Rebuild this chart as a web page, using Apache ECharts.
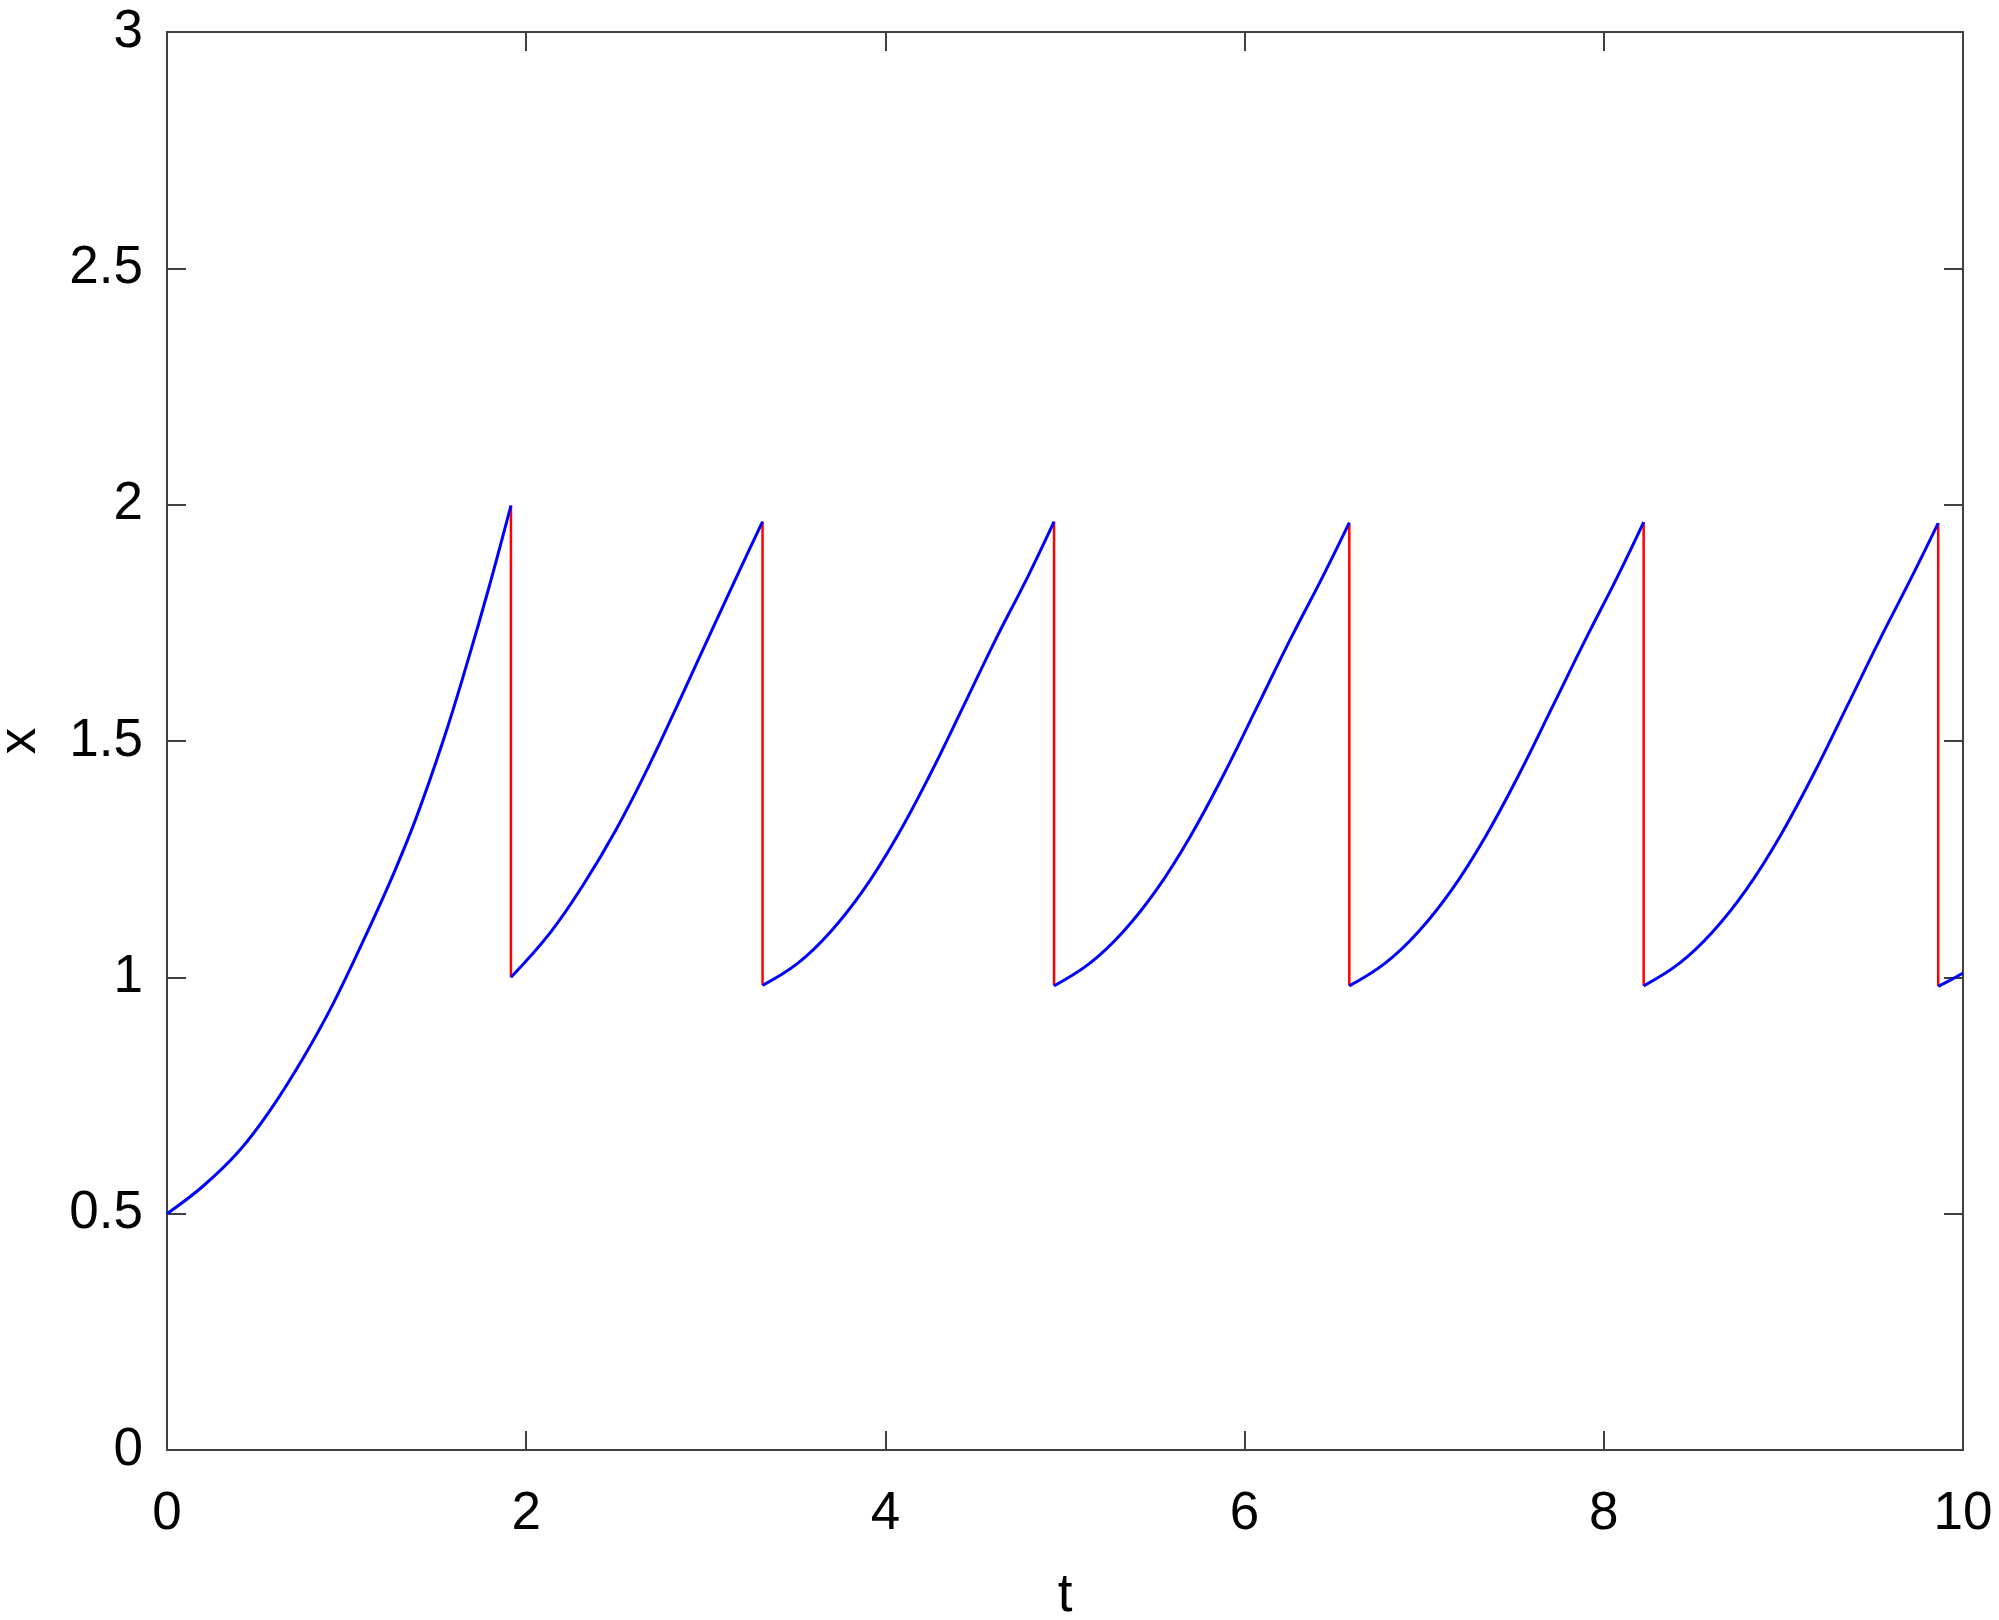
<!DOCTYPE html>
<html>
<head>
<meta charset="utf-8">
<script src="https://cdn.jsdelivr.net/npm/echarts@6/dist/echarts.min.js"></script>
<style>
html,body{margin:0;padding:0;background:#fff;}
#chart{width:1999px;height:1620px;}
</style>
</head>
<body>
<div id="chart"></div>
<script>
// Blue continuous segments (t, x)
const seg1T = [0, 0.2, 0.4, 0.573, 0.759, 0.926, 1.112, 1.26, 1.39, 1.539, 1.669, 1.789, 1.915];
const seg1X = [0.5, 0.558, 0.632, 0.718, 0.830, 0.945, 1.093, 1.218, 1.340, 1.502, 1.662, 1.820, 1.998];
const seg2T = [1.915, 2.133, 2.318, 2.504, 2.689, 2.875, 3.061, 3.246, 3.316];
const seg2X = [1.0, 1.094, 1.196, 1.315, 1.452, 1.603, 1.757, 1.908, 1.964];
const seg3T = [3.316, 3.513, 3.696, 3.880, 4.063, 4.246, 4.430, 4.613, 4.796, 4.939];
const seg3X = [0.983, 1.030, 1.097, 1.186, 1.297, 1.427, 1.570, 1.714, 1.850, 1.964];
const seg4T = [4.939, 5.139, 5.325, 5.511, 5.696, 5.881, 6.067, 6.253, 6.438, 6.583];
const seg4X = [0.982, 1.030, 1.097, 1.186, 1.297, 1.427, 1.570, 1.714, 1.850, 1.962];
const seg5T = [6.583, 6.783, 6.969, 7.155, 7.34, 7.525, 7.711, 7.897, 8.082, 8.222];
const seg5X = [0.982, 1.030, 1.097, 1.186, 1.297, 1.427, 1.570, 1.714, 1.852, 1.963];
const seg6T = [8.222, 8.422, 8.608, 8.794, 8.979, 9.164, 9.35, 9.536, 9.721, 9.862];
const seg6X = [0.982, 1.030, 1.097, 1.186, 1.297, 1.427, 1.570, 1.714, 1.852, 1.961];
const seg7T = [9.862, 9.93, 10];
const seg7X = [0.981, 0.994, 1.009];

// Red reset jumps
const resetT = [1.915, 3.316, 4.939, 6.583, 8.222, 9.862];
const resetTop = [1.998, 1.964, 1.964, 1.962, 1.963, 1.961];
const resetBottom = [1.0, 0.983, 0.982, 0.982, 0.982, 0.981];

const xTicks = [0, 2, 4, 6, 8, 10];
const yTicks = [0, 0.5, 1, 1.5, 2, 2.5, 3];

const segs = [[seg1T, seg1X], [seg2T, seg2X], [seg3T, seg3X], [seg4T, seg4X], [seg5T, seg5X], [seg6T, seg6X], [seg7T, seg7X]];

const series = [];
segs.forEach(function (s) {
  series.push({
    type: 'line',
    data: s[0].map(function (t, i) { return [t, s[1][i]]; }),
    showSymbol: false,
    smooth: 0.4,
    lineStyle: { color: '#0000ff', width: 3 },
    silent: true,
    animation: false,
    z: 3
  });
});
resetT.forEach(function (t, i) {
  series.push({
    type: 'line',
    data: [[t, resetTop[i]], [t, resetBottom[i]]],
    showSymbol: false,
    lineStyle: { color: '#ff0000', width: 2.5 },
    silent: true,
    animation: false,
    z: 2
  });
});

const font = '"Liberation Sans", Arial, Helvetica, sans-serif';
const axisColor = '#404040';

const chart = echarts.init(document.getElementById('chart'), null, { renderer: 'canvas' });
chart.setOption({
  backgroundColor: '#ffffff',
  animation: false,
  grid: { left: 167, top: 32, right: 36, bottom: 170, containLabel: false, outerBoundsMode: 'none' },
  xAxis: [{
    type: 'value', min: 0, max: 10, interval: 2, position: 'bottom',
    name: 't', nameLocation: 'middle', nameGap: 120,
    nameTextStyle: { fontFamily: font, fontSize: 53, color: '#000' },
    axisLine: { show: true, onZero: false, lineStyle: { color: axisColor, width: 2 } },
    axisTick: { show: true, inside: true, length: 19, lineStyle: { color: axisColor, width: 2 } },
    axisLabel: { fontFamily: font, fontSize: 53, color: '#000', margin: 38,
      formatter: function (v) { return xTicks.indexOf(v) >= 0 ? String(v) : ''; } },
    splitLine: { show: false }
  }, {
    type: 'value', min: 0, max: 10, interval: 2, position: 'top',
    axisLine: { show: true, onZero: false, lineStyle: { color: axisColor, width: 2 } },
    axisTick: { show: true, inside: true, length: 19, lineStyle: { color: axisColor, width: 2 } },
    axisLabel: { show: false }, splitLine: { show: false }
  }],
  yAxis: [{
    type: 'value', min: 0, max: 3, interval: 0.5, position: 'left',
    name: 'x', nameLocation: 'middle', nameGap: 120, nameRotate: 90,
    nameTextStyle: { fontFamily: font, fontSize: 53, color: '#000' },
    axisLine: { show: true, onZero: false, lineStyle: { color: axisColor, width: 2 } },
    axisTick: { show: true, inside: true, length: 19, lineStyle: { color: axisColor, width: 2 } },
    axisLabel: { fontFamily: font, fontSize: 53, color: '#000', margin: 24,
      formatter: function (v) { return yTicks.indexOf(v) >= 0 ? String(v) : ''; } },
    splitLine: { show: false }
  }, {
    type: 'value', min: 0, max: 3, interval: 0.5, position: 'right',
    axisLine: { show: true, onZero: false, lineStyle: { color: axisColor, width: 2 } },
    axisTick: { show: true, inside: true, length: 19, lineStyle: { color: axisColor, width: 2 } },
    axisLabel: { show: false }, splitLine: { show: false }
  }],
  series: series
});
</script>
</body>
</html>
